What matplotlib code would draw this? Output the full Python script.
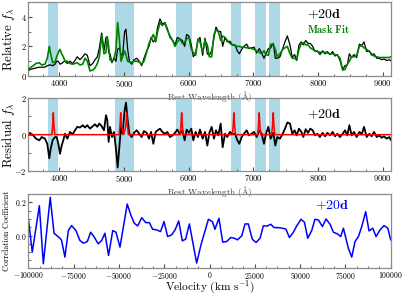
import matplotlib
matplotlib.use("Agg")
import matplotlib.pyplot as plt
from matplotlib.ticker import MultipleLocator

plt.rcParams['font.family'] = 'serif'
plt.rcParams['font.serif'] = ['cmr10']
plt.rcParams['mathtext.fontset'] = 'cm'
plt.rcParams['axes.formatter.use_mathtext'] = True

# rest wavelength grid (Angstrom)
wave = [3521, 3546, 3598, 3639, 3691, 3727, 3778, 3814, 3845, 3866, 3897, 3933, 3959, 3985,
        4010, 4036, 4062, 4088, 4124, 4165, 4206, 4242, 4278, 4320, 4361, 4397, 4433, 4474,
        4516, 4552, 4588, 4619, 4655, 4691, 4722, 4742, 4763, 4784, 4814, 4845, 4876, 4902,
        4928, 4954, 4979, 5010, 5031, 5057, 5083, 5119, 5155, 5196, 5237, 5273, 5309, 5351,
        5387, 5418, 5454, 5490, 5521, 5557, 5593, 5634, 5670, 5711, 5753, 5789, 5825, 5866,
        5902, 5938, 5969, 6005, 6041, 6072, 6108, 6144, 6175, 6217, 6253, 6289, 6320, 6356,
        6392, 6423, 6459, 6495, 6526, 6562, 6598, 6639, 6675, 6717, 6753, 6784, 6820, 6856,
        6897, 6933, 6974, 7011, 7052, 7093, 7129, 7165, 7196, 7232, 7268, 7310, 7340, 7371,
        7413, 7454, 7490, 7526, 7567, 7603, 7639, 7670, 7706, 7743, 7773, 7810, 7846, 7882,
        7918, 7954, 7990, 8031, 8072, 8109, 8145, 8186, 8227, 8263, 8299, 8341, 8382, 8418,
        8454, 8485, 8521, 8557, 8598, 8640, 8676, 8712, 8753, 8794, 8830, 8866, 8908, 8949,
        8985, 9021, 9062, 9103, 9124]

mask_fit = [0.45, 0.55, 0.70, 0.85, 0.90, 0.75, 0.80, 1.20, 2.00, 1.50, 0.90, 0.95, 1.30, 1.60,
            1.80, 1.50, 1.30, 1.00, 1.00, 0.85, 0.80, 0.85, 0.90, 0.75, 0.80, 1.20, 1.00, 0.35,
            0.40, 0.55, 0.85, 1.30, 2.75, 1.50, 1.60, 2.60, 2.00, 1.10, 1.00, 1.10, 1.80, 3.60,
            2.50, 1.00, 1.30, 1.70, 1.40, 1.00, 0.95, 0.90, 1.00, 1.00, 0.95, 0.80, 1.00, 1.60,
            2.20, 2.50, 2.80, 2.30, 3.00, 3.60, 3.40, 3.55, 3.10, 2.70, 2.40, 2.00, 2.30, 2.50,
            2.20, 2.30, 2.50, 2.60, 1.80, 1.60, 1.40, 2.50, 2.30, 1.60, 2.40, 2.10, 1.30, 1.30,
            2.80, 3.10, 3.00, 2.40, 2.70, 2.60, 2.40, 2.20, 2.10, 2.05, 2.00, 2.00, 1.95, 1.95,
            1.90, 1.90, 1.85, 1.80, 1.70, 1.60, 1.50, 1.70, 1.45, 1.40, 2.15, 2.10, 1.80, 1.30,
            1.50, 1.80, 1.90, 2.00, 1.50, 1.20, 1.20, 1.10, 1.80, 2.20, 2.25, 2.10, 2.10, 1.90,
            1.80, 1.70, 1.65, 1.60, 1.60, 1.60, 1.55, 1.50, 1.50, 1.45, 1.40, 1.20, 0.40, 0.45,
            0.80, 1.00, 1.30, 1.30, 1.40, 2.00, 2.05, 1.90, 1.80, 1.65, 1.50, 1.35, 1.30, 1.25,
            1.25, 1.25, 1.25, 1.25, 1.30]

observed = [0.35, 0.45, 0.50, 0.55, 0.60, 0.60, 0.60, 0.70, 0.75, 0.75, 0.70, 0.80, 1.00, 1.00,
            0.80, 0.85, 0.95, 1.00, 0.85, 1.00, 0.85, 1.05, 1.30, 1.10, 1.30, 1.50, 1.40, 0.70,
            0.85, 1.10, 1.30, 1.90, 2.90, 1.70, 2.60, 2.65, 1.60, 1.50, 0.90, 1.25, 1.00, 1.80,
            1.90, 1.45, 1.40, 3.00, 3.15, 1.80, 1.00, 0.80, 1.10, 1.20, 1.00, 0.70, 1.20, 1.70,
            2.00, 2.60, 2.30, 2.45, 3.30, 3.85, 3.50, 3.60, 3.20, 2.60, 2.40, 2.10, 2.60, 2.50,
            2.40, 2.00, 2.80, 2.70, 2.10, 1.30, 1.55, 2.40, 2.60, 1.40, 2.55, 1.50, 1.40, 1.70,
            2.60, 3.30, 3.00, 3.00, 2.00, 2.60, 2.30, 2.35, 2.10, 2.10, 1.70, 1.50, 1.80, 2.00,
            2.15, 1.85, 1.90, 1.95, 1.55, 1.85, 1.55, 1.20, 1.50, 1.85, 1.90, 2.20, 1.20, 1.20,
            1.30, 1.85, 2.30, 2.70, 2.10, 1.25, 1.45, 1.05, 2.10, 2.30, 2.10, 2.40, 2.20, 2.20,
            2.00, 1.65, 1.70, 1.45, 1.70, 1.50, 1.65, 1.45, 1.65, 1.35, 1.45, 1.05, 0.45, 0.70,
            0.75, 1.50, 1.25, 1.45, 1.25, 2.15, 2.05, 2.30, 1.65, 1.70, 1.40, 1.50, 1.20, 1.20,
            1.10, 1.15, 1.05, 1.10, 1.05]

residual = [-0.04, 0.10, -0.04, -0.22, -0.31, -0.13, -0.22, -0.50, -1.30, -0.78, -0.30, -0.13, -0.13, -0.50,
            -1.05, -0.60, -0.30, 0.05, -0.22, 0.15, 0.02, 0.24, 0.43, 0.39, 0.52, 0.39, 0.52, 0.33,
            0.46, 0.57, 0.43, 0.61, 0.46, 0.24, 1.07, 0.80, -0.40, 0.43, -0.13, 0.15, -0.78, -1.80,
            -0.69, 0.43, 0.05, 1.35, 1.76, 0.80, 0.05, -0.13, 0.10, 0.24, 0.05, -0.13, 0.20, 0.10,
            -0.22, 0.15, -0.50, 0.15, 0.24, 0.33, 0.15, 0.05, 0.15, -0.13, -0.04, 0.10, 0.28, 0.02,
            0.24, -0.31, 0.28, 0.10, 0.33, -0.31, 0.15, -0.13, 0.28, -0.22, 0.15, -0.60, 0.10, 0.43,
            -0.22, 0.24, -0.04, 0.61, -0.69, 0.05, -0.13, 0.15, 0.02, 0.05, -0.31, -0.50, -0.13, 0.05,
            0.24, -0.04, 0.05, 0.15, -0.13, 0.24, 0.05, -0.50, 0.05, 0.43, -0.22, 0.10, -0.60, -0.13,
            -0.22, 0.05, 0.33, 0.67, 0.61, 0.05, 0.24, -0.04, 0.33, 0.15, -0.13, 0.30, 0.10, 0.33,
            0.24, -0.04, 0.05, -0.13, 0.10, -0.09, 0.10, -0.04, 0.15, -0.09, 0.05, -0.13, 0.05, 0.24,
            -0.04, 0.52, -0.04, 0.15, -0.13, 0.15, 0.02, 0.43, -0.13, 0.05, -0.09, 0.15, -0.13, -0.04,
            -0.17, -0.09, -0.22, -0.13, -0.28]

# emission-line model shown in red on the residual panel
line_wave = [3521, 3885, 3897, 3907, 3917, 3929, 4925, 4938, 4949, 4960, 4995, 5030, 5042,
             5054, 5068, 5868, 5881, 5892, 5903, 5916, 6676, 6689, 6700, 6711, 6724, 7067,
             7080, 7091, 7102, 7115, 7284, 7297, 7308, 7319, 7332, 9124]
line_flux = [0, 0, 0.5, 1.2, 0.5, 0, 0, 0.5, 1.2, 0.5, 0, 0.5, 1.2,
             0.5, 0, 0, 0.5, 1.2, 0.5, 0, 0, 0.5, 1.2, 0.5, 0, 0,
             0.5, 1.2, 0.5, 0, 0, 0.5, 1.2, 0.5, 0, 0]

# masked wavelength regions
mask_lo = [3830, 4860, 5800, 6655, 7025, 7240]
mask_hi = [3985, 5160, 6045, 6805, 7195, 7420]

# cross-correlation
velocity = [-100000, -97800, -93900, -91700, -87900, -85800, -82500, -81600, -79800, -77900,
            -76100, -73700, -71500, -69600, -67400, -65600, -63800, -61400, -59500, -57700,
            -55700, -53400, -51600, -49400, -45400, -43300, -41500, -39600, -37400, -35200,
            -33200, -31400, -29200, -27000, -25100, -23100, -20900, -19000, -17000, -15000,
            -13200, -11100, -7100, -4700, -600, 1600, 3000, 5200, 7300, 9500,
            11700, 13700, 15400, 17800, 19600, 21400, 23600, 25700, 27900, 29700,
            31900, 33800, 35600, 38000, 40400, 42200, 44100, 46300, 48100, 50500,
            52400, 54200, 56400, 58200, 60100, 62300, 64300, 66500, 68400, 70600,
            72400, 73900, 76600, 78500, 80300, 82200, 84000, 86200, 88000, 90100,
            91900, 94100, 96300, 98400, 100000]
corr = [0.104, -0.10, 0.18, -0.17, 0.23, 0.014, -0.016, -0.03, -0.13, 0.03,
        0.06, 0.03, -0.03, -0.046, -0.036, 0.02, -0.006, -0.05, -0.03, 0.014,
        -0.12, 0.03, 0.02, -0.07, 0.19, 0.12, 0.074, 0.058, 0.108, 0.078,
        0.078, 0.038, 0.034, 0.024, 0.084, -0.006, 0.004, 0.034, 0.088, -0.032,
        -0.022, 0.07, -0.166, -0.056, 0.098, 0.084, 0.038, 0.104, -0.04, -0.036,
        -0.012, -0.016, -0.026, -0.002, 0.07, 0.07, -0.022, -0.042, -0.016, 0.058,
        0.058, 0.068, 0.048, 0.048, 0.044, 0.038, -0.012, 0.02, 0.058, 0.098,
        0.08, -0.016, 0.03, 0.098, 0.094, 0.054, 0.10, 0.068, 0.02, 0.01,
        -0.006, 0.044, -0.076, -0.13, -0.036, -0.006, 0.054, 0.144, 0.028, 0.044,
        -0.006, 0.034, 0.06, 0.044, -0.026]

fig = plt.figure(figsize=(4.07, 2.95), dpi=100)
ax1 = fig.add_axes([0.0695, 0.742, 0.8905, 0.252])
ax2 = fig.add_axes([0.0695, 0.420, 0.8905, 0.247])
ax3 = fig.add_axes([0.0695, 0.092, 0.8905, 0.250])

spine_col = '0.55'
for ax in (ax1, ax2, ax3):
    ax.set_facecolor('none')
    for s in ax.spines.values():
        s.set_color(spine_col)
        s.set_linewidth(0.9)
    ax.tick_params(which='both', direction='in', color='0.3', labelsize=6.2, pad=1.2)
    ax.tick_params(which='major', length=3)
    ax.tick_params(which='minor', length=1.8)

for ax in (ax1, ax2):
    for lo, hi in zip(mask_lo, mask_hi):
        ax.axvspan(lo, hi, color='lightblue', lw=0, zorder=0)
    ax.set_xlim(3520, 9125)
    ax.xaxis.set_major_locator(MultipleLocator(1000))
    ax.xaxis.set_minor_locator(MultipleLocator(250))
    ax.yaxis.set_minor_locator(MultipleLocator(1))
    ax.set_xlabel(r'Rest Wavelength ($\mathrm{\AA}$)', fontsize=6.5, labelpad=0.5, color='0.25')
    ax.yaxis.set_label_coords(-0.03, 0.5)

# top: spectrum and mask fit
ax1.plot(wave, observed, color='black', lw=0.9, zorder=2)
ax1.plot(wave, mask_fit, color='green', lw=1.2, zorder=3)
ax1.set_ylim(0, 5)
ax1.yaxis.set_major_locator(MultipleLocator(2))
ax1.set_ylabel(r'Relative $f_\lambda$', fontsize=9.3)
ax1.text(0.77, 0.83, r'$\mathbf{+20d}$', transform=ax1.transAxes, fontsize=10, va='center')
ax1.text(0.77, 0.63, r'$\mathbf{Mask\ Fit}$', transform=ax1.transAxes, fontsize=7.5,
         color='green', va='center')

# middle: residual
ax2.plot(wave, residual, color='black', lw=1.3, zorder=2)
ax2.plot(line_wave, line_flux, color='red', lw=1.1, zorder=3)
ax2.set_ylim(-2, 2)
ax2.yaxis.set_major_locator(MultipleLocator(2))
ax2.set_ylabel(r'Residual $f_\lambda$', fontsize=9.3)
ax2.text(0.77, 0.78, r'$\mathbf{+20d}$', transform=ax2.transAxes, fontsize=10, va='center')

# bottom: correlation
ax3.plot(velocity, corr, color='blue', lw=1.1)
ax3.set_xlim(-100000, 100000)
ax3.set_ylim(-0.195, 0.25)
ax3.xaxis.set_major_locator(MultipleLocator(25000))
ax3.xaxis.set_minor_locator(MultipleLocator(6250))
ax3.yaxis.set_major_locator(MultipleLocator(0.2))
ax3.yaxis.set_minor_locator(MultipleLocator(0.05))
ax3.tick_params(axis='both', labelsize=5.6)
ax3.set_xlabel(r'Velocity (km s$^{-1}$)', fontsize=8.2, labelpad=-1)
ax3.set_ylabel('Correlation Coefficient', fontsize=5.8)
ax3.yaxis.set_label_coords(-0.048, 0.5)
ax3.text(0.79, 0.85, r'$\mathbf{+20d}$', transform=ax3.transAxes, fontsize=10,
         color='blue', va='center')

fig.savefig('out.png', dpi=100)
